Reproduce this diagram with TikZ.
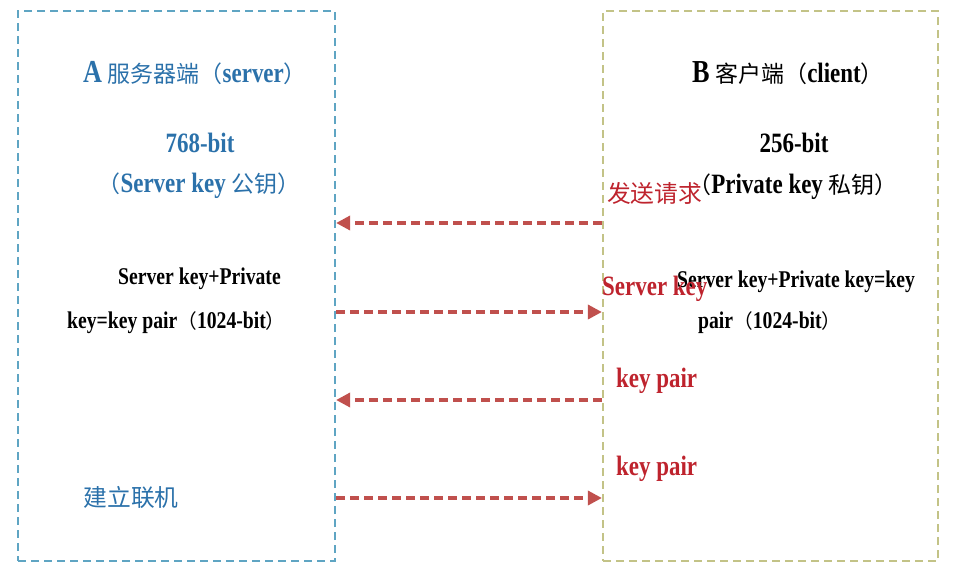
\documentclass[tikz,border=0pt]{standalone}
\usepackage{fontspec}
\usepackage{tikz}
\usetikzlibrary{arrows.meta}
\setmainfont{Liberation Serif}[FakeStretch=0.82]
\newfontfamily\zh{Noto Sans CJK SC}[Scale=0.82]

\definecolor{srvblue}{RGB}{43,113,170}
\definecolor{srvline}{RGB}{95,165,195}
\definecolor{cliline}{RGB}{195,195,135}
\definecolor{keyred}{RGB}{190,35,45}
\definecolor{msgred}{RGB}{192,80,77}

\tikzset{
	box/.style={line width=2.2pt, dash pattern=on 8pt off 5pt, inner sep=0pt, minimum height=550pt},
	msg/.style={draw=msgred, line width=3.4pt, dash pattern=on 9pt off 5pt, -{Triangle[length=14pt,width=14pt]}},
	big/.style={font=\fontsize{28}{32}\selectfont\bfseries, inner sep=0pt},
	small/.style={font=\fontsize{24}{28}\selectfont\bfseries, inner sep=0pt},
	zhlabel/.style={font=\fontsize{29}{34}\selectfont\zh, inner sep=0pt}
}

\begin{document}
\begin{tikzpicture}[x=1pt, y=-1pt]
		\useasboundingbox (0,0) rectangle (970,574);

		% Draw the two sides
		\node[box, draw=srvline, minimum width=317pt] (srv) at (176.5,286) {};
		\node[box, draw=cliline, minimum width=335pt] (cli) at (770.5,286) {};

		% Server side
		\node[big, text=srvblue, anchor=base west] (srvtitle) at (83,82) {{\fontsize{32}{36}\selectfont A} {\mdseries\zh 服务器端（}server{\mdseries\zh ）}};
		\node[big, text=srvblue, anchor=base] (srvbits) at (200,152) {768-bit};
		\node[big, text=srvblue, anchor=base] (srvkey) at (199,192) {{\mdseries\zh （}Server key {\mdseries\zh 公钥）}};
		\node[small, anchor=base west] (srvpair1) at (118,284) {Server key+Private};
		\node[small, anchor=base west] (srvpair2) at (67,328) {key=key pair{\mdseries\zh （}1024-bit{\mdseries\zh ）}};
		\node[zhlabel, text=srvblue] (link) at (131,497) {建立联机};

		% Client side
		\node[big, anchor=base west] (clititle) at (692,82) {{\fontsize{32}{36}\selectfont B} {\mdseries\zh 客户端（}client{\mdseries\zh ）}};
		\node[big, anchor=base] (clibits) at (794,152) {256-bit};
		\node[big, anchor=base] (clikey) at (793,193) {{\mdseries\zh （}Private key {\mdseries\zh 私钥）}};
		\node[small, anchor=base west] (clipair1) at (677,287) {Server key+Private key=key};
		\node[small, anchor=base west] (clipair2) at (698,328) {pair{\mdseries\zh （}1024-bit{\mdseries\zh ）}};

		% Messages between the sides
		\coordinate (m1) at (0,223);
		\coordinate (m2) at (0,312);
		\coordinate (m3) at (0,400);
		\coordinate (m4) at (0,498);
		\draw[msg] (cli.west |- m1) -- (srv.east |- m1);
		\draw[msg] (srv.east |- m2) -- (cli.west |- m2);
		\draw[msg] (cli.west |- m3) -- (srv.east |- m3);
		\draw[msg] (srv.east |- m4) -- (cli.west |- m4);

		% Message labels
		\node[zhlabel, text=keyred, anchor=west] (req) at (607,193) {发送请求};
		\node[big, text=keyred, anchor=base west] (skey) at (602,295) {Server key};
		\node[big, text=keyred, anchor=base west] (kp1) at (616,387) {key pair};
		\node[big, text=keyred, anchor=base west] (kp2) at (616,475) {key pair};
	\end{tikzpicture}
\end{document}
